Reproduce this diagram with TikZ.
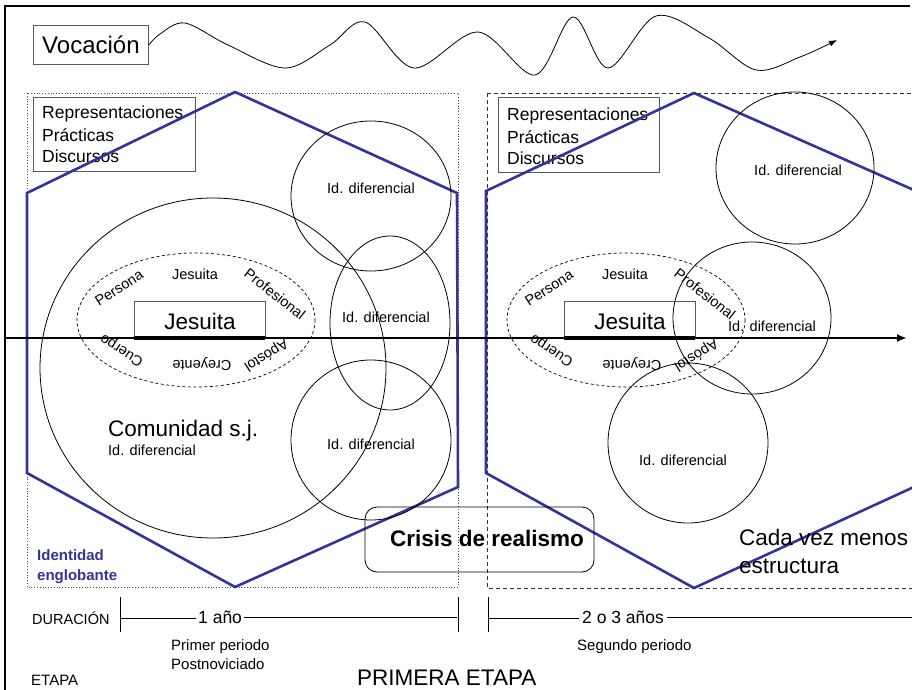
\documentclass[tikz,border=0pt]{standalone}
\usepackage{fontspec}
\setmainfont{Liberation Sans}
\usetikzlibrary{shapes.geometric,arrows.meta}
\definecolor{hexblue}{RGB}{51,51,153}
\begin{document}
\begin{tikzpicture}[x=1pt,y=-1pt,
  hexa/.style={draw=hexblue,line width=2.6pt,line join=miter},
  idc/.style={draw=black,line width=0.8pt},
  gbox/.style={draw=black!65,line width=0.9pt},
  tA/.style={font=\fontsize{22.5}{26}\selectfont,inner sep=0pt},
  tB/.style={font=\fontsize{17.5}{21}\selectfont,inner sep=0pt},
  tC/.style={font=\fontsize{14.5}{17}\selectfont,inner sep=0pt},
  tD/.style={font=\fontsize{15}{18}\selectfont,inner sep=0pt},
  tE/.style={font=\fontsize{14.5}{17}\selectfont,inner sep=0pt},
]
\useasboundingbox (0,0) rectangle (912,690);
\fill[white] (0,0) rectangle (912,690);
% frame
\draw[line width=2pt] (5,690) -- (5,6) -- (910,6);

% Vocacion
\node[gbox,minimum width=115pt,minimum height=39pt,anchor=north west,inner sep=0pt] (voc) at (33,25) {};
\node[font=\fontsize{24}{28}\selectfont,inner sep=0pt,anchor=center] (voct) at (voc.center) {Vocación};
\coordinate (wend) at (837,40);
\draw[line width=0.8pt,-{Latex[length=8pt,width=6pt]}] plot[smooth,tension=0.55] coordinates {(voc.east) (160,34) (185,23) (228,45) (285,68) (330,45) (365,22) (414,68) (478,32) (535,75) (573,17) (608,68) (656,16) (709,38) (756,70) (800,57) (wend)};

% dotted / dashed region boxes
\draw[black!70,line width=0.8pt,dotted] (27,93) rectangle (458,587);
\draw[black!80,line width=0.8pt,dash pattern=on 4pt off 3pt] (487,93) -- (912,93);
\draw[black!80,line width=0.8pt,dash pattern=on 4pt off 3pt] (487,93) -- (487,588) -- (912,588);

% Representaciones boxes
\node[gbox,minimum width=162pt,minimum height=74pt,anchor=north west,inner sep=0pt] (rep1) at (33,97) {};
\node[tB,anchor=base west] (r1a) at (42,119) {Representaciones};
\node[tB,anchor=base west] (r1b) at (42,141) {Prácticas};
\node[tB,anchor=base west] (r1c) at (42,162) {Discursos};
\node[gbox,minimum width=161pt,minimum height=75pt,anchor=north west,inner sep=0pt] (rep2) at (498,97) {};
\node[tB,anchor=base west] (r2a) at (507,121) {Representaciones};
\node[tB,anchor=base west] (r2b) at (507,143) {Prácticas};
\node[tB,anchor=base west] (r2c) at (507,164) {Discursos};

% hexagons
\draw[hexa] (235,92) -- (457,193) -- (458,487) -- (235,587) -- (27,473) -- (27,193) -- cycle;
\draw[hexa] (694,93) -- (916,191) -- (916,486) -- (694,588) -- (486,473) -- (486,191) -- cycle;

% left circles
\draw[idc] (213,368) ellipse [x radius=173, y radius=170];
\node[idc,ellipse,minimum width=160pt,minimum height=150pt,inner sep=0pt] (L1) at (371,196) {};
\node[tC] (L1t) at (371,188) {Id. diferencial};
\node[idc,ellipse,minimum width=120pt,minimum height=174pt,inner sep=0pt] (L2) at (390,323) {};
\node[tC] (L2t) at (386,317) {Id. diferencial};
\node[idc,ellipse,minimum width=160pt,minimum height=160pt,inner sep=0pt] (L3) at (371,440) {};
\node[tC] (L3t) at (371,444) {Id. diferencial};

% right circles
\node[idc,ellipse,minimum width=158pt,minimum height=152pt,inner sep=0pt] (R1) at (795,168) {};
\node[tC] (R1t) at (798,170) {Id. diferencial};
\node[idc,ellipse,minimum width=158pt,minimum height=152pt,inner sep=0pt] (R2) at (752,318) {};
\node[tC] (R2t) at (772,326) {Id. diferencial};
\node[idc,ellipse,minimum width=160pt,minimum height=160pt,inner sep=0pt] (R3) at (688,443) {};
\node[tC] (R3t) at (683,460) {Id. diferencial};

% dashed ellipses and labels
\foreach \dx/\nm in {0/L,430/R}{
  \draw[line width=0.7pt,dash pattern=on 3pt off 2.5pt] (196+\dx,320) ellipse [x radius=119, y radius=67];
  \node[tC,rotate=33] (\nm per) at (119+\dx,288) {Persona};
  \node[tC] (\nm jes) at (195+\dx,274) {Jesuita};
  \node[tC,rotate=-38] (\nm pro) at (275+\dx,294) {Profesional};
  \node[tC,rotate=148] (\nm cue) at (122+\dx,350) {Cuerpo};
  \node[tC,rotate=180] (\nm cre) at (202+\dx,364) {Creyente};
  \node[tC,rotate=212] (\nm apo) at (266+\dx,355) {Apóstol};
  \node[gbox,minimum width=131pt,minimum height=37pt,anchor=north west,inner sep=0pt] (\nm box) at (134+\dx,301) {};
  \node[tA] (\nm bt) at (200+\dx,321) {Jesuita};
  \draw[line width=4pt] (134+\dx,337.5) -- (265+\dx,337.5);
}

% axis
\coordinate (axL) at (5,338);
\coordinate (axR) at (907,338);
\draw[line width=2.5pt,-{Latex[length=10pt,width=8pt]}] (axL) -- (axR);

% texts
\node[tA,anchor=base west] (com) at (108,436) {Comunidad s.j.};
\node[tC,anchor=base west] (comid) at (108,455) {Id. diferencial};
\node[font=\fontsize{15}{18}\selectfont\bfseries,text=hexblue,inner sep=0pt,anchor=base west] (ide1) at (37,560) {Identidad};
\node[font=\fontsize{15}{18}\selectfont\bfseries,text=hexblue,inner sep=0pt,anchor=base west] (ide2) at (37,580) {englobante};
\node[draw,line width=0.8pt,rounded corners=12pt,minimum width=229pt,minimum height=65pt,inner sep=0pt] (crisis) at (479.5,539.5) {};
\node[font=\fontsize{22.5}{26}\selectfont\bfseries,inner sep=0pt] (crt) at (487,538) {Crisis de realismo};
\node[tA,anchor=base west] (cada1) at (739,545) {Cada vez menos};
\node[tA,anchor=base west] (cada2) at (739,573) {estructura};

% duration
\node[tE,anchor=base west] (dur) at (32,624) {DURACIÓN};
\coordinate (t1a) at (120,597); \coordinate (t1b) at (120,632);
\coordinate (t2a) at (458,597); \coordinate (t2b) at (458,632);
\coordinate (t3a) at (488,597); \coordinate (t3b) at (488,632);
\draw[line width=0.8pt] (t1a) -- (t1b) (t2a) -- (t2b) (t3a) -- (t3b);
\node[font=\fontsize{17.5}{20}\selectfont,inner sep=2pt,anchor=base west] (ano1) at (196,623) {1 año};
\node[font=\fontsize{17.5}{20}\selectfont,inner sep=3pt,anchor=base west] (ano2) at (579,623) {2 o 3 años};
\coordinate (d1) at (120,618); \coordinate (d2) at (457,617);
\coordinate (d3) at (488,618); \coordinate (d4) at (912,617);
\draw[line width=0.8pt] (d1) -- (d1 -| ano1.west);
\draw[line width=0.8pt] (ano1.east |- d2) -- (d2);
\draw[line width=0.8pt] (d3) -- (d3 -| ano2.west);
\draw[line width=0.8pt] (ano2.east |- d4) -- (d4);
\node[tD,anchor=base west] (p1) at (171,650) {Primer periodo};
\node[tD,anchor=base west] (p2) at (171,669) {Postnoviciado};
\node[tD,anchor=base west] (p3) at (577,650) {Segundo periodo};
\node[tD,anchor=base west] (eta) at (31,685) {ETAPA};
\node[font=\fontsize{22.5}{26}\selectfont,inner sep=0pt,anchor=base west] (pri) at (357,685.5) {PRIMERA ETAPA};
\end{tikzpicture}
\end{document}
